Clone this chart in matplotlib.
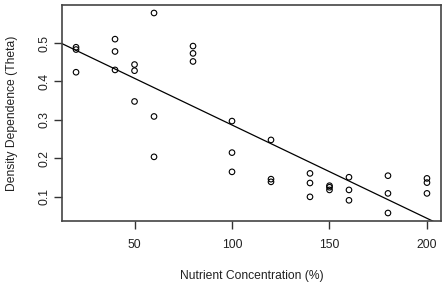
import numpy as np
import matplotlib.pyplot as plt

plt.rcParams['font.family'] = ['Liberation Sans', 'DejaVu Sans']

# nutrient concentration (%) and density dependence (theta)
nutrient = [20, 20, 20, 40, 40, 40, 50, 50, 50, 60, 60, 60,
            80, 80, 80, 100, 100, 100, 120, 120, 120, 140, 140, 140,
            150, 150, 150, 160, 160, 160, 180, 180, 180, 200, 200, 200]
theta = [0.489, 0.483, 0.424, 0.510, 0.478, 0.430, 0.444, 0.428, 0.348,
         0.578, 0.309, 0.204, 0.492, 0.473, 0.452, 0.297, 0.215, 0.165,
         0.248, 0.146, 0.139, 0.161, 0.136, 0.100, 0.129, 0.125, 0.118,
         0.151, 0.118, 0.091, 0.155, 0.109, 0.058, 0.148, 0.137, 0.109]

x_ticks = [50, 100, 150, 200]
y_ticks = [0.1, 0.2, 0.3, 0.4, 0.5]

x = np.array(nutrient, dtype=float)
y = np.array(theta)
slope, intercept = np.polyfit(x, y, 1)

fig = plt.figure(figsize=(4.42, 2.84), dpi=100)
ax = fig.add_axes([62 / 442, 1 - 221 / 284, 379 / 442, 216 / 284])

ax.scatter(x, y, s=16, facecolors='none', edgecolors='black', linewidths=0.8)

xr = x.max() - x.min()
yr = y.max() - y.min()
xlim = (x.min() - 0.04 * xr, x.max() + 0.04 * xr)
ylim = (y.min() - 0.04 * yr, y.max() + 0.04 * yr)
ax.plot(xlim, [intercept + slope * v for v in xlim], color='black', lw=0.9)
ax.set_xlim(xlim)
ax.set_ylim(ylim)

ax.set_xticks(x_ticks)
ax.set_yticks(y_ticks)
ax.set_yticklabels([str(t) for t in y_ticks], rotation=90, va='center')
ax.tick_params(direction='out', length=5.5, width=1, color='#333333',
               labelsize=8.7, labelcolor='#222222')
ax.tick_params(axis='x', pad=7.5)
ax.tick_params(axis='y', pad=3)
for s in ax.spines.values():
    s.set_color('#444444')
    s.set_linewidth(1.2)

ax.set_xlabel('Nutrient Concentration (%)', fontsize=8.7, color='#222222')
ax.set_ylabel('Density Dependence (Theta)', fontsize=8.7, color='#222222')
ax.xaxis.set_label_coords(251.5 / 442, 1 - 276 / 284, transform=fig.transFigure)
ax.yaxis.set_label_coords(12 / 442, 1 - 113 / 284, transform=fig.transFigure)
ax.xaxis.label.set_va('center')
ax.yaxis.label.set_va('center')

fig.savefig('out.png', dpi=100)
